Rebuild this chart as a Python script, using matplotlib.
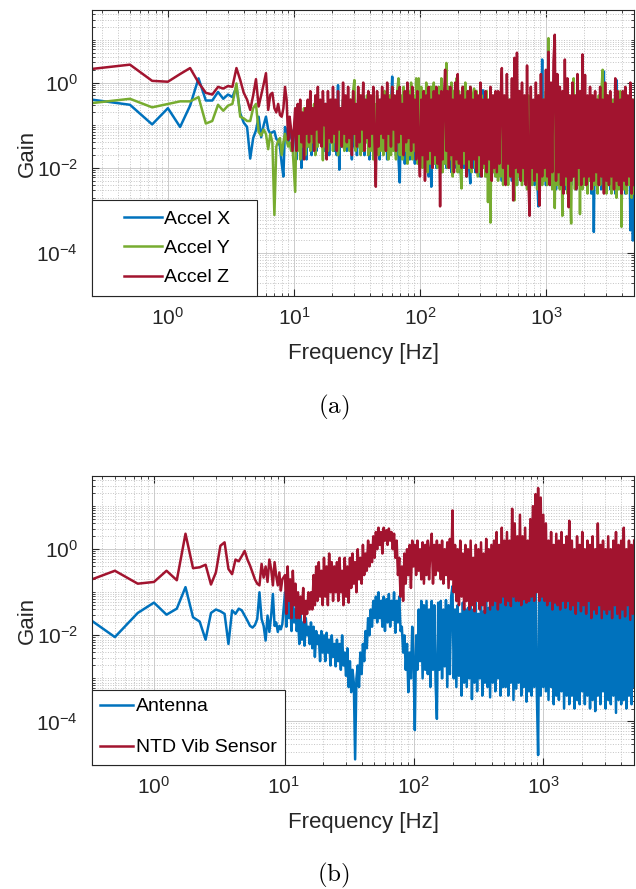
import numpy as np
import matplotlib
matplotlib.use("Agg")
import matplotlib.pyplot as plt
from matplotlib.lines import Line2D
from matplotlib.legend_handler import HandlerLine2D
from matplotlib.ticker import FixedLocator, LogLocator, LogFormatterSciNotation, NullFormatter

plt.rcParams['font.family'] = ['Liberation Sans', 'DejaVu Sans']
plt.rcParams['mathtext.fontset'] = 'custom'
plt.rcParams['mathtext.rm'] = 'Liberation Sans'
plt.rcParams['axes.unicode_minus'] = False

BLUE = '#0072BD'
GREEN = '#77AC30'
RED = '#A2142F'
AXIS = '#262626'

# FFT bins below 10 Hz (Hz)
freq_lo = [0.25, 0.5, 0.75, 1.0, 1.25, 1.5, 1.75, 2.0, 2.25, 2.5,
           2.75, 3.0, 3.25, 3.5, 3.75, 4.0, 4.25, 4.5, 4.75, 5.0,
           5.25, 5.5, 5.75, 6.0, 6.25, 6.5, 6.75, 7.0, 7.25, 7.5,
           7.75, 8.0, 8.25, 8.5, 8.75, 9.0, 9.25, 9.5, 9.75]

# log10(frequency) of the points kept above 10 Hz
logf_hi = [1.01, 1.02, 1.03, 1.04, 1.05, 1.06, 1.07, 1.08, 1.09, 1.10,
           1.11, 1.12, 1.13, 1.14, 1.15, 1.16, 1.17, 1.18, 1.19, 1.20,
           1.21, 1.22, 1.23, 1.24, 1.25, 1.26, 1.27, 1.28, 1.29, 1.30,
           1.31, 1.32, 1.33, 1.34, 1.35, 1.36, 1.37, 1.38, 1.39, 1.40,
           1.41, 1.42, 1.43, 1.44, 1.45, 1.46, 1.47, 1.48, 1.49, 1.50,
           1.51, 1.52, 1.53, 1.54, 1.55, 1.56, 1.57, 1.58, 1.59, 1.60,
           1.61, 1.62, 1.63, 1.64, 1.65, 1.66, 1.67, 1.68, 1.69, 1.70,
           1.71, 1.72, 1.73, 1.74, 1.75, 1.76, 1.77, 1.78, 1.79, 1.80,
           1.81, 1.82, 1.83, 1.84, 1.85, 1.86, 1.87, 1.88, 1.89, 1.90,
           1.91, 1.92, 1.93, 1.94, 1.95, 1.96, 1.97, 1.98, 1.99, 2.00,
           2.01, 2.02, 2.03, 2.04, 2.05, 2.06, 2.07, 2.08, 2.09, 2.10,
           2.11, 2.12, 2.13, 2.14, 2.15, 2.16, 2.17, 2.18, 2.19, 2.20,
           2.21, 2.22, 2.23, 2.24, 2.25, 2.26, 2.27, 2.28, 2.29, 2.30,
           2.31, 2.32, 2.33, 2.34, 2.35, 2.36, 2.37, 2.38, 2.39, 2.40,
           2.41, 2.42, 2.43, 2.44, 2.45, 2.46, 2.47, 2.48, 2.49, 2.50,
           2.51, 2.52, 2.53, 2.54, 2.55, 2.56, 2.57, 2.58, 2.59, 2.60,
           2.61, 2.62, 2.63, 2.64, 2.65, 2.66, 2.67, 2.68, 2.69, 2.70,
           2.71, 2.72, 2.73, 2.74, 2.75, 2.76, 2.77, 2.78, 2.79, 2.80,
           2.81, 2.82, 2.83, 2.84, 2.85, 2.86, 2.87, 2.88, 2.89, 2.90,
           2.91, 2.92, 2.93, 2.94, 2.95, 2.96, 2.97, 2.98, 2.99, 3.00,
           3.01, 3.02, 3.03, 3.04, 3.05, 3.06, 3.07, 3.08, 3.09, 3.10,
           3.11, 3.12, 3.13, 3.14, 3.15, 3.16, 3.17, 3.18, 3.19, 3.20,
           3.21, 3.22, 3.23, 3.24, 3.25, 3.26, 3.27, 3.28, 3.29, 3.30,
           3.31, 3.32, 3.33, 3.34, 3.35, 3.36, 3.37, 3.38, 3.39, 3.40,
           3.41, 3.42, 3.43, 3.44, 3.45, 3.46, 3.47, 3.48, 3.49, 3.50,
           3.51, 3.52, 3.53, 3.54, 3.55, 3.56, 3.57, 3.58, 3.59, 3.60,
           3.61, 3.62, 3.63, 3.64, 3.65, 3.66, 3.67, 3.68, 3.69, 3.70]

# (a) accelerometer, log10(gain)
accel_x_lo = [-0.4, -0.52, -0.98, -0.6, -1.04, -0.54, 0.1, -0.42, -0.42, -0.22,
              -0.38, -0.28, -0.34, -0.1, -0.72, -0.94, -1.04, -1.78, -1.3, -1.12,
              -0.8, -1.28, -1.0, -0.8, -1.1, -1.2, -1.16, -1.14, -1.32, -1.36,
              -1.5, -1.9, -2.2, -1.04, -1.2, -1.4, -1.3, -1.1, -1.2]
accel_x_hi = [-1.2, -1.8, -0.8, -1.5, -1.0, -2.0, -0.9, -1.6, -1.1, -1.8,
              -0.6, -1.5, -0.9, -1.7, -0.6, -1.4, -1.0, -1.6, -0.7, -1.4,
              -0.6, -1.4, -0.8, -1.6, -0.5, -1.5, -0.7, -1.7, -0.6, -1.4,
              -0.5, -1.6, -0.7, -1.7, -0.06, -2.04, -0.6, -1.5, -0.4, -1.4,
              -0.6, -1.6, -0.4, -1.4, -0.7, -1.8, -0.5, -1.5, -0.6, -1.7,
              -0.4, -1.5, -0.6, -1.6, -0.3, -1.7, -0.6, -1.4, -0.5, -1.8,
              -0.6, -1.5, -0.4, -1.7, -0.6, -1.6, -0.5, -1.8, -0.4, -1.5,
              -0.7, -1.6, -0.3, -1.8, -0.5, -1.6, -0.6, 0.14, -1.4, -0.4,
              -1.7, -0.6, -1.8, -2.34, -0.5, -1.6, -0.4, -1.9, -0.6, -1.7,
              -0.5, -1.8, -0.6, -1.6, -0.4, -1.9, -0.7, -1.8, -0.4, -1.6,
              -0.6, -1.9, -0.5, -2.0, -0.4, -1.8, -2.2, -0.6, -2.44, -0.5,
              -1.9, -0.6, -2.0, -0.4, -1.8, -0.7, -2.1, -0.5, -1.9, -0.4,
              -2.0, -0.6, -1.8, -0.4, -2.1, -0.6, -1.9, -0.5, -2.0, -0.4,
              -2.1, -0.6, -1.9, -0.5, -2.0, -0.4, -2.2, -0.6, -2.0, -2.36,
              -0.6, -2.0, -0.5, -2.1, -0.6, -1.9, -0.4, -2.2, -0.5, -0.18,
              -2.0, -0.6, -2.2, -0.5, -2.0, -0.6, -2.2, -0.4, -2.1, -0.6,
              -2.2, -0.5, -2.1, -0.4, -2.3, -0.6, -2.2, -0.4, -2.0, -0.5,
              -2.2, -0.4, -2.3, -0.6, -2.1, -0.5, -2.4, -0.4, -2.2, -0.6,
              -2.3, -0.5, -2.2, -0.6, -2.4, -0.4, -2.2, -0.5, -2.3, -0.6,
              -2.4, -0.4, -2.2, -2.9, -0.5, -2.3, 0.54, -2.2, -0.4, -2.4,
              -0.5, -2.3, -0.4, -2.4, -0.6, -2.2, -0.4, -2.5, -0.6, -2.3,
              -0.4, -2.4, -0.6, -2.2, -0.5, -2.5, -0.4, -2.3, -0.6, -2.4,
              -0.5, -2.2, -0.4, -2.5, -0.6, -2.3, -0.4, -2.4, -0.5, -2.2,
              -0.4, -2.4, -0.6, -2.3, -0.5, -2.6, -0.4, -3.5, -0.5, -2.4,
              -0.6, -2.3, -0.4, -2.5, -0.2, 0.26, -2.4, -0.5, -2.3, -0.4,
              -2.5, -0.6, -2.2, -0.4, -2.6, 0.06, -2.4, -0.5, -2.3, -0.6,
              -2.4, -0.4, -2.6, -0.5, -2.3, -0.6, -3.46, -0.4, -3.7, -0.6]

accel_y_lo = [-0.48, -0.38, -0.58, -0.5, -0.44, -0.44, -0.34, -0.96, -0.9, -0.52,
              -0.66, -0.54, -0.5, -0.02, -0.8, -0.84, -0.9, -0.9, -0.6, -0.5,
              -1.16, -1.24, -1.1, -1.2, -1.56, -1.2, -1.4, -3.1, -1.5, -1.36,
              -1.3, -1.7, -1.4, -1.2, -1.36, -1.5, -1.4, -1.6, -1.5]
accel_y_hi = [-2.56, -1.0, -1.6, -0.7, -1.8, -0.8, -1.5, -0.6, -1.7, -0.9,
              -1.5, -0.6, -1.6, -0.8, -1.4, -0.5, -1.7, -0.7, -1.5, -0.6,
              -1.4, -0.8, -1.82, -0.6, -1.5, -0.5, -1.6, -0.7, -1.4, -0.4,
              -1.6, -0.6, -1.4, -0.5, -1.7, -1.34, -0.6, -1.5, -0.4, -1.6,
              -0.5, -1.5, -0.6, -1.6, -0.4, -1.4, -0.2, 0.06, -1.6, -0.6,
              -1.5, -0.4, -1.7, -0.5, -1.6, -0.6, -1.4, -0.3, -1.7, -0.5,
              -1.6, -0.4, -1.8, -0.5, -1.5, -0.3, -1.7, -0.6, -1.6, -0.4,
              -1.7, -0.2, -1.6, -0.4, -1.8, -0.3, -1.7, -0.1, -1.6, -0.4,
              -1.8, -0.2, 0.1, -1.7, -0.3, -1.8, -0.1, -1.6, -0.4, -1.9,
              -0.2, -1.7, 0.0, -1.8, -0.3, -1.6, 0.1, -1.9, 0.1, -1.8,
              -0.1, -2.0, -0.2, -1.8, 0.0, -2.1, -0.3, -1.9, -0.1, -2.0,
              0.0, -1.9, -0.2, -2.0, -0.1, -1.8, 0.1, -2.1, -0.2, -1.9,
              0.46, -2.0, -0.1, -1.8, 0.0, -2.2, -0.2, -1.9, 0.1, -2.1,
              -0.2, -2.0, -2.48, -0.1, -1.9, 0.0, -2.2, -0.2, -2.0, -0.1,
              -2.1, -0.3, -0.14, -2.0, -0.2, -2.2, -0.4, -2.1, -0.3, -2.0,
              -0.4, -2.2, -0.2, -2.8, -0.4, -3.28, -0.3, -2.1, -0.5, -2.2,
              -0.4, -2.3, -0.3, -2.2, -0.5, -2.4, -0.4, -2.2, -0.3, -2.4,
              -0.4, -2.2, -0.5, -2.3, -2.76, -0.4, -2.4, -0.3, -2.2, -0.5,
              -2.4, -0.4, -2.3, -0.5, -2.5, -0.3, -2.2, -0.4, -2.4, -0.5,
              -2.3, -0.4, -2.5, -0.3, -2.2, -0.5, -2.4, -0.4, -2.3, -0.2,
              -2.4, 1.04, -2.28, -0.4, -2.5, -0.3, -2.94, -0.5, -2.4, -0.4,
              -2.5, -0.3, -3.12, -0.4, -2.4, -0.5, -2.6, -0.3, -2.4, -3.3,
              -0.4, 0.1, -2.5, -0.3, -2.4, -0.5, -3.08, -0.4, -2.5, -0.3,
              -2.4, -0.5, -2.6, -0.4, -2.3, -0.3, -2.5, -0.5, -2.4, -0.4,
              -2.6, -0.3, -2.4, -0.2, 0.3, -2.5, -0.4, -2.6, -0.3, -2.4,
              -0.5, -2.6, -0.4, -2.4, -0.3, -2.7, -0.4, -2.5, -0.2, -3.38,
              -0.4, -2.5, -0.3, -2.6, -0.5, -2.4, -0.2, -2.7, -0.4, -2.6]

accel_z_lo = [0.32, 0.42, 0.04, 0.02, 0.2, 0.34, 0.0, -0.24, -0.28, -0.1,
              -0.14, -0.08, -0.1, 0.34, 0.06, -0.24, -0.4, -0.64, -0.3, 0.08,
              -0.56, -0.3, -0.04, 0.22, -0.64, -0.28, -0.24, -0.6, -0.7, -0.5,
              -0.76, -0.8, -0.6, -0.1, -0.4, -1.34, -0.8, -1.1, -1.6]
accel_z_hi = [-0.6, -1.6, -0.5, -1.2, -0.4, -1.4, -0.7, -1.8, -0.6, -1.2,
              -0.4, -1.4, -0.2, -1.2, -0.6, -1.6, -0.3, -1.1, -0.1, -1.4,
              -0.4, -1.5, -0.2, -1.0, -0.5, -1.8, -0.2, -1.3, -0.4, -1.4,
              -0.1, -1.2, -0.4, -1.6, -0.2, -1.1, -0.6, -1.5, 0.0, -1.2,
              -0.3, -1.4, -0.1, -1.3, -0.4, -1.7, -0.2, -1.2, -0.5, -1.5,
              -0.1, -1.4, -0.3, -1.1, 0.0, -1.6, -0.4, -1.3, -0.2, -1.5,
              -0.3, -1.2, -0.1, -1.4, -2.44, -0.2, -1.5, -0.4, -1.2, -0.1,
              -1.3, -0.3, -1.6, 0.0, -1.2, -0.4, -1.5, -0.1, -1.1, -0.3,
              -1.6, -0.2, -1.4, -0.1, -1.2, -0.5, -1.7, -0.2, -1.4, 0.0,
              -1.3, -0.3, -1.6, -0.1, -1.4, -0.4, -1.8, -0.2, -1.5, -2.2,
              -0.4, -1.7, -0.2, -2.3, -0.3, -1.8, -0.1, -1.6, -0.4, -2.0,
              -0.2, -1.7, -0.1, -1.9, -0.3, -2.9, -0.2, -1.8, -0.4, 0.3,
              -1.6, -0.2, -2.0, -0.1, -1.7, -0.4, -2.1, 0.0, -1.8, 0.2,
              -1.9, -0.3, -2.0, -0.1, -1.6, -0.4, -2.2, -0.2, -1.8, -0.1,
              -2.0, -0.4, -1.8, -0.2, -2.1, -0.3, -1.7, 0.0, -2.2, -0.4,
              -1.9, -0.2, -2.1, -0.4, -1.8, -0.1, -2.3, -0.3, -2.0, -0.2,
              -2.1, -0.2, -1.9, -0.4, 0.34, -2.0, -0.3, -2.4, 0.2, -1.9,
              -0.4, -2.2, 0.1, -2.76, 0.58, -2.0, 0.7, -2.1, -0.2, -2.3,
              0.0, -2.0, -0.3, -2.4, 0.4, -2.2, -3.12, -0.1, -2.0, -0.4,
              -2.3, 0.0, -2.1, -0.3, -2.88, 0.2, -2.2, -0.4, -2.0, 0.3,
              -2.2, 0.72, -2.4, 0.0, -2.1, 0.5, 1.12, -2.3, 0.2, -2.1,
              -0.1, -2.4, -0.2, -2.6, 0.54, -2.2, 0.1, -2.92, -0.3, -2.3,
              0.0, -2.2, -0.3, -2.5, 0.2, -2.0, -0.2, -2.4, 0.66, -2.2,
              0.18, -2.4, -0.3, -2.2, -0.1, -2.5, -0.3, -2.3, -0.2, -2.1,
              -0.4, -2.4, -0.1, -2.2, -0.4, -2.6, 0.0, -2.3, -0.3, -2.4,
              -0.2, -2.2, -0.5, -2.5, 0.1, -2.3, -0.2, -2.4, -0.4, -2.6,
              -0.2, -2.3, -0.1, -2.4, -0.3, -2.2, 0.0, -2.6, -0.4, -2.4]

# (b) antenna vs NTD vibration sensor, log10(gain)
antenna_lo = [-1.4, -2.04, -1.48, -1.24, -1.52, -1.38, -0.88, -1.58, -1.68, -2.1,
              -1.48, -1.4, -1.44, -1.5, -2.2, -1.42, -1.5, -1.38, -1.42, -1.54,
              -1.66, -1.78, -1.82, -1.76, -1.62, -1.0, -1.62, -1.78, -2.12, -1.54,
              -1.92, -1.54, -1.04, -1.78, -1.7, -1.92, -1.78, -1.86, -1.74]
antenna_hi = [-1.0, -1.8, -0.9, -1.6, -1.2, -1.9, -1.1, -1.7, -1.4, -1.9,
              -1.6, -2.2, -1.5, -2.1, -1.7, -2.24, -1.6, -2.0, -1.8, -2.2,
              -1.7, -2.3, -1.8, -2.5, -1.9, -2.2, -2.0, -2.6, -1.9, -2.4,
              -2.0, -2.6, -1.94, -2.4, -2.1, -2.7, -2.0, -2.5, -2.2, -2.72,
              -2.1, -2.6, -2.2, -2.8, -2.0, -2.7, -2.4, -2.94, -2.3, -3.2,
              -2.6, -3.32, -2.8, -3.1, -4.88, -3.0, -2.7, -3.2, -2.4, -2.9,
              -2.2, -2.6, -1.9, -2.3, -1.6, -2.0, -1.4, -1.8, -1.2, -1.6,
              -1.1, -1.7, -1.0, -1.6, -1.2, -1.8, -1.1, -1.9, -1.16, -1.7,
              -1.04, -1.8, -1.2, -1.64, -1.0, -1.94, -1.2, -1.7, -1.1, -1.9,
              -1.8, -2.4, -2.0, -2.8, -2.2, -3.32, -2.4, -3.0, -1.8, -2.6,
              -4.2, -2.0, -2.8, -1.4, -2.6, -1.2, -3.0, -1.3, -2.8, -1.2,
              -2.9, -1.4, -3.2, -1.2, -2.8, -1.3, -3.1, -3.94, -1.24, -2.8,
              -1.2, -3.0, -1.4, -2.72, -1.18, -3.2, -1.3, -2.9, -1.1, -0.86,
              -3.0, -1.4, -3.2, -1.3, -2.94, -1.5, -3.4, -1.24, -3.1, -1.4,
              -3.2, -1.36, -3.0, -1.1, -3.48, -1.4, -3.1, -1.24, -3.3, -1.5,
              -3.0, -1.2, -3.4, -1.44, -3.1, -1.0, -3.2, -1.36, -3.44, -1.2,
              -3.1, -1.1, -3.3, -0.9, -3.0, -1.2, -3.4, -0.8, -3.2, -1.0,
              -3.2, -0.7, -3.4, -1.0, -3.1, -0.8, -3.5, -0.9, -3.24, -0.6,
              -3.1, -0.9, -3.4, -0.7, -3.2, -1.0, -3.54, -0.6, -3.3, -0.8,
              -3.4, -0.5, -3.2, -0.4, -3.3, -4.78, -0.56, -3.4, -0.7, -3.2,
              -0.9, -3.3, -1.0, -3.5, -1.1, -3.2, -0.9, -3.6, -1.2, -3.4,
              -1.0, -3.5, -1.24, -3.3, -0.9, -3.7, -1.1, -3.4, -0.76, -3.6,
              -1.2, -3.4, -1.0, -3.7, -1.3, -3.5, -0.9, -3.6, -1.16, -3.3,
              -1.0, -3.6, -1.24, -3.4, -0.8, -3.7, -1.1, -3.5, -1.2, -3.76,
              -0.9, -3.4, -1.2, -3.6, -1.0, -3.3, -0.76, -3.7, -1.24, -3.5,
              -1.1, -3.6, -0.9, -3.4, -1.2, -3.8, -1.0, -3.5, -0.72, -3.6,
              -1.2, -3.5, -1.0, -3.7, -1.24, -3.4, -0.9, -3.6, -1.1, -3.2]

ntd_lo = [-0.84, -0.5, -0.8, -0.76, -0.5, -0.72, 0.36, -0.44, -0.42, -0.36,
          -0.82, -0.54, 0.08, 0.16, -0.46, -0.58, -0.24, -0.28, -0.16, -0.04,
          -0.24, -0.38, -0.54, -0.7, -0.8, -0.84, -0.34, -0.66, -0.4, -0.76,
          -0.24, -0.46, -0.84, -0.3, -0.62, -0.84, -0.54, -0.96, -0.7]
ntd_hi = [-0.6, -1.5, -0.4, -1.2, -0.7, -1.6, -0.5, -1.3, -0.8, -1.6,
          -1.0, -1.6, -1.1, -1.5, -0.9, -1.7, -1.2, -1.5, -1.0, -1.4,
          -1.0, -1.4, -0.6, -1.3, -0.4, -1.2, -0.3, -1.1, -0.5, -1.3,
          -0.2, -1.1, -0.4, -1.3, -0.1, -1.0, -0.3, -1.2, -0.4, -1.0,
          -0.3, -1.2, -0.2, -1.0, -0.5, -1.3, -0.2, -1.1, -0.4, -1.24,
          -0.2, -0.9, -0.1, -0.8, -0.3, -1.0, 0.0, -0.7, -0.2, -0.8,
          0.1, -0.6, -0.1, -0.5, 0.2, -0.4, 0.1, -0.3, 0.3, -0.2,
          0.4, 0.0, 0.5, 0.1, 0.4, -0.1, 0.5, 0.2, 0.44, 0.1,
          0.48, 0.2, 0.4, 0.0, 0.36, -0.2, 0.2, -0.6, -0.2, -1.1,
          -0.4, -1.2, -0.1, -0.8, 0.0, -0.6, 0.1, -0.9, 0.2, -0.4,
          0.1, -0.6, 0.2, -0.5, 0.0, -0.7, 0.16, -0.8, 0.1, -0.6,
          0.2, -0.7, 0.0, 0.36, -0.8, 0.1, -0.6, 0.2, -0.5, 0.1,
          -0.7, 0.2, -0.8, 0.0, -0.6, 0.16, -0.9, 0.24, -0.7, 0.9,
          -1.0, 0.1, -1.2, 0.0, -1.3, 0.2, -1.1, -0.1, -1.4, 0.1,
          -1.2, 0.0, -1.4, 0.2, -1.3, -0.2, -1.44, 0.1, -1.2, 0.0,
          -1.4, 0.16, -1.3, -0.1, -1.48, 0.24, -1.2, 0.0, -1.4, 0.1,
          -1.3, 0.2, -1.2, 0.4, -1.4, 0.1, -1.24, 0.5, -1.1, 0.2,
          -1.3, 0.4, -1.2, 0.2, -1.32, 0.94, -1.1, 0.6, -1.2, 0.3,
          -1.2, 0.8, -1.3, 0.3, -1.16, 0.5, -1.24, 0.2, -1.2, 0.7,
          -1.1, 1.0, -1.2, 1.28, -1.0, 1.42, -1.2, 1.2, -1.1, 0.8,
          -1.2, 0.6, -1.3, 0.2, -1.2, 0.4, -1.4, 0.1, -1.24, 0.36,
          -1.3, 0.2, -1.4, 0.4, -1.2, 0.1, -1.36, 0.3, -1.2, 0.66,
          -1.4, 0.2, -1.3, 0.0, -1.5, 0.3, -1.2, 0.1, -1.44, 0.4,
          -1.3, 0.0, -1.5, 0.2, -1.2, 0.1, -1.6, 0.3, -1.4, 0.0,
          -1.5, 0.6, -1.3, 0.1, -1.6, 0.2, -1.4, 0.0, -1.5, 0.3,
          -1.4, 0.0, -1.6, 0.2, -1.3, 0.4, -1.5, 0.1, -1.6, 0.2,
          -1.4, 0.5, -1.56, 0.0, -1.3, 0.2, -1.64, 0.1, -1.5, 0.2]

freq = np.array(freq_lo + list(10.0 ** np.array(logf_hi)))


def gain(lo, hi):
    return 10.0 ** np.array(lo + hi)


class IndentedLine(HandlerLine2D):
    # legend line that starts a bit in from the frame, like MATLAB's
    def __init__(self, indent, **kw):
        super().__init__(**kw)
        self.indent = indent

    def create_artists(self, legend, orig_handle, xdescent, ydescent,
                       width, height, fontsize, trans):
        artists = super().create_artists(legend, orig_handle, xdescent, ydescent,
                                         width, height, fontsize, trans)
        line = artists[0]
        x = np.asarray(line.get_xdata(), dtype=float)
        line.set_xdata(np.linspace(x.min() + self.indent * fontsize, x.max(), len(x)))
        return artists


def setup(ax, xmin):
    ax.set_xscale('log')
    ax.set_yscale('log')
    ax.set_xlim(xmin, 5000)
    ax.set_ylim(1e-5, 50)
    ax.xaxis.set_major_locator(FixedLocator([1e0, 1e1, 1e2, 1e3]))
    ax.xaxis.set_minor_locator(LogLocator(base=10, subs=np.arange(2, 10), numticks=50))
    ax.yaxis.set_major_locator(FixedLocator([1e-4, 1e-2, 1e0]))
    ax.yaxis.set_minor_locator(LogLocator(base=10, subs=np.arange(1, 10), numticks=50))
    for axis in (ax.xaxis, ax.yaxis):
        axis.set_major_formatter(LogFormatterSciNotation())
        axis.set_minor_formatter(NullFormatter())
    ax.set_axisbelow(True)
    ax.grid(True, which='major', color='#cccccc', lw=0.7)
    ax.grid(True, which='minor', color='#c4c4c4', lw=0.7, ls=':')
    ax.tick_params(which='both', direction='in', top=True, right=True,
                   color=AXIS, labelcolor=AXIS, labelsize=15)
    ax.tick_params(which='major', length=5)
    ax.tick_params(which='minor', length=2.5)
    ax.tick_params(axis='y', pad=10)
    ax.tick_params(axis='x', pad=8)
    for s in ax.spines.values():
        s.set_color(AXIS)
        s.set_linewidth(0.8)
    ax.set_xlabel('Frequency [Hz]', fontsize=16, color=AXIS)
    ax.set_ylabel('Gain', fontsize=16, color=AXIS)
    ax.xaxis.set_label_coords(0.5, -0.165)
    ax.yaxis.set_label_coords(-0.10, 0.5)


fig = plt.figure(figsize=(6.36, 8.89), dpi=100)
ax1 = fig.add_axes([0.1447, 0.6670, 0.8522, 0.3217])
ax2 = fig.add_axes([0.1447, 0.1400, 0.8522, 0.3245])

# (a)
ax1.plot(freq, gain(accel_x_lo, accel_x_hi), color=BLUE, lw=1.8, label='Accel X')
ax1.plot(freq, gain(accel_y_lo, accel_y_hi), color=GREEN, lw=1.8, label='Accel Y')
ax1.plot(freq, gain(accel_z_lo, accel_z_hi), color=RED, lw=1.8, label='Accel Z')
setup(ax1, 0.25)
leg1 = ax1.legend(loc='lower left', bbox_to_anchor=(0, 0, 0.304, 1), mode='expand',
                  borderaxespad=0, fontsize=14, borderpad=0.5, labelspacing=0.6,
                  handlelength=3.1, handletextpad=0.1, fancybox=False,
                  edgecolor=AXIS, framealpha=1,
                  handler_map={Line2D: IndentedLine(1.13)})
leg1.get_frame().set_linewidth(0.8)

# (b)
ax2.plot(freq, gain(antenna_lo, antenna_hi), color=BLUE, lw=1.8, label='Antenna')
ax2.plot(freq, gain(ntd_lo, ntd_hi), color=RED, lw=1.8, label='NTD Vib Sensor')
setup(ax2, 1 / 3)
leg2 = ax2.legend(loc='lower left', borderaxespad=0, fontsize=14, borderpad=0.42,
                  labelspacing=1.2, handlelength=1.7, handletextpad=0.12,
                  fancybox=False, edgecolor=AXIS, framealpha=1)
leg2.get_frame().set_linewidth(0.8)

fig.text(0.525, 1 - 407 / 889, r'$\mathrm{(a)}$', math_fontfamily='cm',
         fontsize=18, ha='center', va='center')
fig.text(0.525, 1 - 875 / 889, r'$\mathrm{(b)}$', math_fontfamily='cm',
         fontsize=18, ha='center', va='center')

fig.savefig('out.png', dpi=100)
